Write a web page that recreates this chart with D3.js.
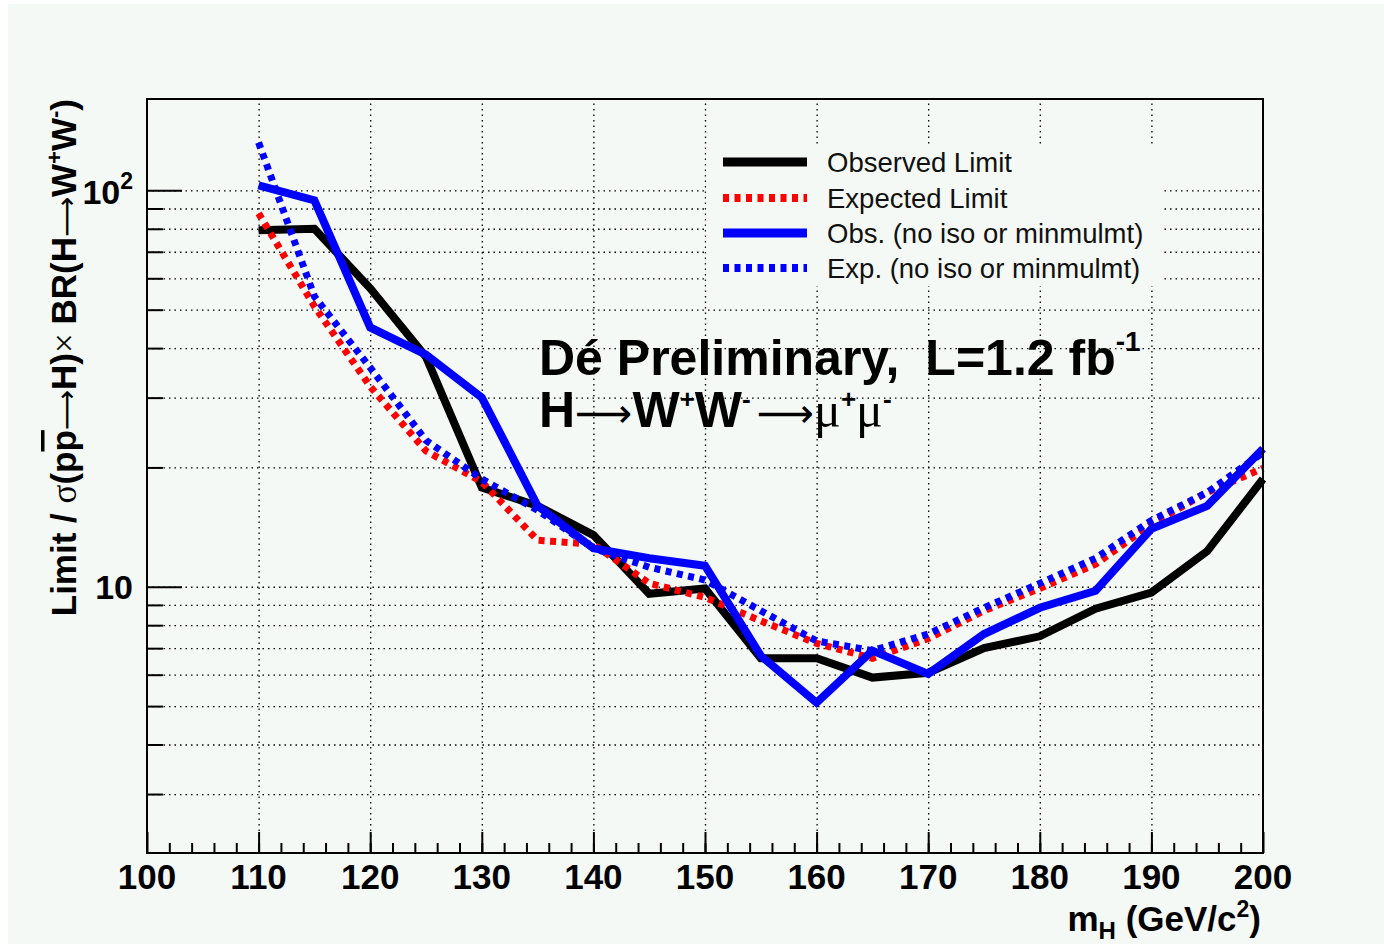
<!DOCTYPE html>
<html>
<head>
<meta charset="utf-8">
<script src="https://cdn.jsdelivr.net/npm/d3@7"></script>
<style>
  body { margin: 0; background: #ffffff; }
  svg { display: block; font-family: "Liberation Sans", Arial, sans-serif; }
  .grid line { stroke: #000; stroke-width: 1.3; stroke-dasharray: 1.5,4; }
  .grid path { display: none; }
  .ticks path { display: none; }
  .ticks line { stroke: #000; stroke-width: 2; }
  .sym { font-family: "Liberation Serif", "DejaVu Serif", serif; font-weight: normal; }
  .arr { font-family: "DejaVu Sans", sans-serif; font-weight: normal; }
</style>
</head>
<body>
<svg width="1384" height="944"></svg>
<script>
// Higgs mass points (GeV/c^2)
var masses = [110, 115, 120, 125, 130, 135, 140, 145, 150, 155, 160, 165, 170, 175, 180, 185, 190, 195, 200];

// limit / sigma x BR
var observed = [79.3, 80, 56.6, 38, 17.8, 16.0, 13.5, 9.6, 9.9, 6.6, 6.6, 5.9, 6.07, 7.0, 7.5, 8.8, 9.67, 12.3, 18.7];
var expected = [87.5, 51, 32, 22, 18.4, 13.1, 12.8, 10.2, 9.4, 8.2, 7.2, 6.6, 7.4, 8.7, 9.9, 11.4, 14.4, 17.3, 19.9];
var obsNoIso = [103, 94.4, 45.1, 38.5, 30.0, 16.0, 12.5, 11.8, 11.3, 6.7, 5.1, 6.9, 6.03, 7.6, 8.85, 9.77, 14.0, 16.0, 22.3];
var expNoIso = [132, 54, 35.7, 23.4, 18.7, 15.6, 12.5, 11.2, 10.4, 8.7, 7.3, 6.9, 7.6, 8.85, 10.2, 11.8, 14.7, 17.3, 21.8];

var xMajorTicks = [100, 110, 120, 130, 140, 150, 160, 170, 180, 190, 200];
var xMinorTicks = d3.range(102, 200, 2);
var xGridTicks = [110, 120, 130, 140, 150, 160, 170, 180, 190];
var yMajorTicks = [10, 100];
var yMinorTicks = [3, 4, 5, 6, 7, 8, 9, 20, 30, 40, 50, 60, 70, 80, 90];
var yGridTicks = [3, 4, 5, 6, 7, 8, 9, 10, 20, 30, 40, 50, 60, 70, 80, 90, 100];

var seriesNames = ["Observed Limit", "Expected Limit", "Obs. (no iso or minmulmt)", "Exp. (no iso or minmulmt)"];
var seriesData = [observed, expected, obsNoIso, expNoIso];

var styles = [
  { color: "#000000", dash: null, width: 8 },
  { color: "#ff0000", dash: "6,5.5", width: 7 },
  { color: "#0000ff", dash: null, width: 8 },
  { color: "#0000ff", dash: "6,5.5", width: 7 }
];

var svg = d3.select("svg");
var frame = { left: 147, right: 1263, top: 99, bottom: 853 };
var bg = "#f5f9f5";

// page background
svg.append("rect")
  .attr("x", 8).attr("y", 4)
  .attr("width", 1384 - 8).attr("height", 944 - 4)
  .style("fill", bg);

var x = d3.scaleLinear().domain([100, 200]).range([frame.left, frame.right]);
var y = d3.scaleLog().domain([2.13, 170]).range([frame.bottom, frame.top]);

var plotW = frame.right - frame.left;
var plotH = frame.bottom - frame.top;

// dotted grid
svg.append("g")
  .attr("class", "grid")
  .attr("transform", "translate(0," + frame.bottom + ")")
  .call(d3.axisBottom(x).tickValues(xGridTicks).tickSize(-plotH).tickFormat(""));

svg.append("g")
  .attr("class", "grid")
  .attr("transform", "translate(" + frame.left + ",0)")
  .call(d3.axisLeft(y).tickValues(yGridTicks).tickSize(-plotW).tickFormat(""));

// ticks pointing inward
svg.append("g")
  .attr("class", "ticks")
  .attr("transform", "translate(0," + frame.bottom + ")")
  .call(d3.axisBottom(x).tickValues(xMinorTicks).tickSize(-10).tickFormat(""));
svg.append("g")
  .attr("class", "ticks")
  .attr("transform", "translate(0," + frame.bottom + ")")
  .call(d3.axisBottom(x).tickValues(xMajorTicks).tickSize(-21).tickFormat(""));
svg.append("g")
  .attr("class", "ticks")
  .attr("transform", "translate(" + frame.left + ",0)")
  .call(d3.axisLeft(y).tickValues(yMinorTicks).tickSize(-16).tickFormat(""));
svg.append("g")
  .attr("class", "ticks")
  .attr("transform", "translate(" + frame.left + ",0)")
  .call(d3.axisLeft(y).tickValues(yMajorTicks).tickSize(-35).tickFormat(""));

// x tick labels
svg.selectAll("text.xlab")
  .data(xMajorTicks)
  .enter()
  .append("text")
  .attr("class", "xlab")
  .attr("x", function (d) { return x(d); })
  .attr("y", 889)
  .attr("text-anchor", "middle")
  .style("font-size", "35px")
  .style("font-weight", "bold")
  .text(function (d) { return d; });

// y tick labels
svg.append("text")
  .attr("x", 133).attr("y", y(10) + 12)
  .attr("text-anchor", "end")
  .style("font-size", "34px").style("font-weight", "bold")
  .text("10");

var yl100 = svg.append("text")
  .attr("x", 133).attr("y", y(100) + 14)
  .attr("text-anchor", "end")
  .style("font-size", "34px").style("font-weight", "bold");
yl100.append("tspan").text("10");
yl100.append("tspan").attr("dy", -15).style("font-size", "23px").text("2");

// curves
var line = d3.line()
  .x(function (d) { return x(d[0]); })
  .y(function (d) { return y(d[1]); });

seriesData.forEach(function (vals, i) {
  var pts = masses.map(function (m, j) { return [m, vals[j]]; });
  svg.append("path")
    .attr("d", line(pts))
    .style("fill", "none")
    .style("stroke", styles[i].color)
    .style("stroke-width", styles[i].width)
    .style("stroke-dasharray", styles[i].dash)
    .style("stroke-linejoin", "miter");
});

// frame
svg.append("rect")
  .attr("x", frame.left).attr("y", frame.top)
  .attr("width", plotW).attr("height", plotH)
  .style("fill", "none").style("stroke", "#000").style("stroke-width", 2);

// legend (filled box, no border)
svg.append("rect")
  .attr("x", 706).attr("y", 144)
  .attr("width", 458).attr("height", 142)
  .style("fill", bg);

var legendY = [162, 198, 233, 268];
var legend = svg.selectAll("g.legend")
  .data(seriesNames)
  .enter()
  .append("g")
  .attr("class", "legend")
  .attr("transform", function (d, i) { return "translate(0," + legendY[i] + ")"; });

legend.append("line")
  .attr("x1", 723).attr("x2", 807)
  .style("stroke", function (d, i) { return styles[i].color; })
  .style("stroke-width", function (d, i) { return styles[i].width + 1; })
  .style("stroke-dasharray", function (d, i) { return styles[i].dash; });

legend.append("text")
  .attr("x", 827).attr("y", 10)
  .style("font-size", "27.5px")
  .style("fill", "#111")
  .text(function (d) { return d; });

// title block
var t1 = svg.append("text")
  .attr("x", 539).attr("y", 375)
  .style("font-size", "50px").style("font-weight", "bold");
t1.append("tspan").text("Dé Preliminary,");
t1.append("tspan").attr("dx", 26).text("L=1.2 fb");
t1.append("tspan").attr("dy", -24).style("font-size", "28px").text("-1");

var t2 = svg.append("text")
  .attr("x", 539).attr("y", 427)
  .style("font-size", "50px").style("font-weight", "bold");
t2.append("tspan").text("H");
t2.append("tspan").attr("class", "arr").style("font-size", "40px").text("\u27f6");
t2.append("tspan").text("W");
t2.append("tspan").attr("dy", -19).style("font-size", "26px").text("+");
t2.append("tspan").attr("dy", 19).text("W");
t2.append("tspan").attr("dy", -19).style("font-size", "26px").text("-");
t2.append("tspan").attr("dy", 19).attr("dx", 6).attr("class", "arr").style("font-size", "40px").text("\u27f6");
t2.append("tspan").attr("class", "sym").text("\u03bc");
t2.append("tspan").attr("dy", -19).style("font-size", "26px").text("+");
t2.append("tspan").attr("dy", 19).attr("class", "sym").text("\u03bc");
t2.append("tspan").attr("dy", -19).style("font-size", "26px").text("-");

// x axis title
var xt = svg.append("text")
  .attr("x", 1261).attr("y", 931)
  .attr("text-anchor", "end")
  .style("font-size", "35px").style("font-weight", "bold");
xt.append("tspan").text("m");
xt.append("tspan").attr("dy", 8).style("font-size", "24px").text("H");
xt.append("tspan").attr("dy", -8).text(" (GeV/c");
xt.append("tspan").attr("dy", -14).style("font-size", "23px").text("2");
xt.append("tspan").attr("dy", 14).text(")");

// y axis title
var yt = svg.append("text")
  .attr("transform", "translate(76," + frame.top + ") rotate(-90)")
  .attr("text-anchor", "end")
  .style("font-size", "35px").style("font-weight", "bold");
yt.append("tspan").text("Limit / ");
yt.append("tspan").attr("class", "sym").text("\u03c3");
yt.append("tspan").text("(p");
yt.append("tspan").style("text-decoration", "overline").text("p");
yt.append("tspan").attr("class", "arr").style("font-size", "28px").text("\u27f6");
yt.append("tspan").text("H)");
yt.append("tspan").attr("class", "sym").text("\u00d7 ");
yt.append("tspan").text("BR(H");
yt.append("tspan").attr("class", "arr").style("font-size", "28px").text("\u27f6");
yt.append("tspan").text("W");
yt.append("tspan").attr("dy", -14).style("font-size", "22px").text("+");
yt.append("tspan").attr("dy", 14).text("W");
yt.append("tspan").attr("dy", -14).style("font-size", "22px").text("-");
yt.append("tspan").attr("dy", 14).text(")");
</script>
</body>
</html>
